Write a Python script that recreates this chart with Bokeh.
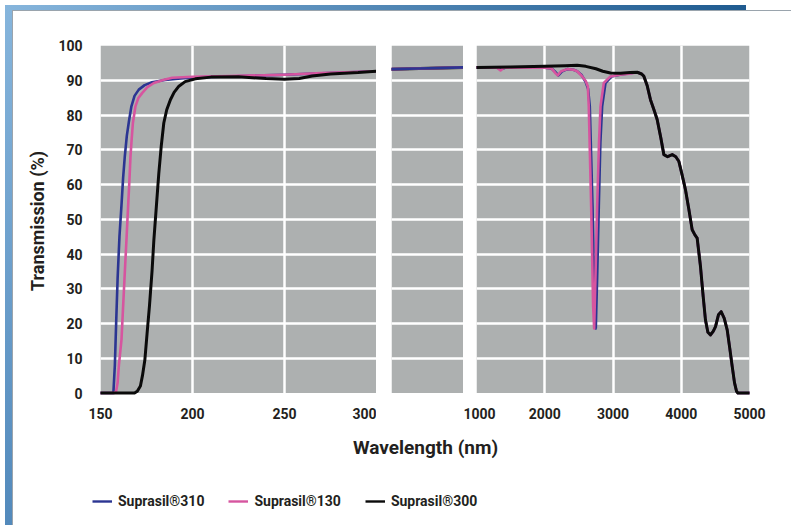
from bokeh.plotting import figure
from bokeh.layouts import column, row
from bokeh.models import Range1d, FixedTicker, BoxAnnotation, Legend, LegendItem, Label, Div
from bokeh.embed import file_html
from bokeh.resources import INLINE

# ---------------- data ----------------
series_names = ["Suprasil®310", "Suprasil®130", "Suprasil®300"]

# shared long-wavelength tail (all three grades coincide beyond ~3.4 µm)
tail_wl = [3420, 3451, 3500, 3549, 3600, 3647, 3700, 3745, 3800, 3868, 3920, 3964, 4010, 4062,
           4110, 4160, 4200, 4233, 4282, 4320, 4355, 4390, 4429, 4470, 4502, 4545, 4585, 4630,
           4673, 4710, 4747, 4780, 4810, 4830, 5000]
tail_t = [91.8, 91.2, 88.5, 84.4, 81.5, 78.7, 73.5, 68.6, 68.0, 68.6, 68.0, 66.7, 63.0, 58.5,
          53.0, 47.0, 45.5, 44.6, 36.4, 28.0, 21.0, 17.5, 16.7, 17.8, 19.1, 22.5, 23.4, 21.5,
          18.2, 13.0, 7.6, 3.0, 0.5, 0.0, 0.0]

wl_310 = [150, 157.0, 157.8, 158.5, 159.3, 160.3, 161.4, 162.3, 163.2, 164.3, 165.4, 166.8, 168.5,
          170.8, 174, 178, 185, 195, 207, 220, 250, 270, 300, 350, 600, 1000,
          1300, 1376, 1420, 2000, 2100, 2160, 2200, 2250, 2330, 2420, 2475, 2540, 2600, 2635, 2660,
          2700, 2729, 2748, 2770, 2792, 2815, 2841, 2890, 2980, 3100, 3250, 3355]
t_310 = [0, 0, 8, 20, 33, 45, 54, 62, 68, 74, 78, 82.5, 85.5,
         87.3, 88.6, 89.4, 90.1, 90.6, 90.9, 91.1, 91.6, 92.0, 92.6, 93.2, 93.4, 93.7,
         93.6, 93.3, 93.6, 93.6, 93.4, 92.3, 91.4, 92.5, 93.2, 93.0, 92.6, 91.5, 89.5, 87.5, 82.5,
         53.7, 24.9, 18.6, 35, 53.7, 72, 82.5, 89.2, 91.1, 91.6, 92.0, 92.3]

wl_130 = [150, 157.5, 158.5, 159.3, 160.0, 161.4, 162.3, 163.2, 164.1, 165.0, 165.7, 166.3, 167.0,
          167.6, 169, 170.5, 172.6, 175.5, 179, 184, 189, 200, 220, 250, 270, 300, 350, 600, 1000,
          1300, 1352, 1400, 2000, 2100, 2160, 2190, 2240, 2330, 2420, 2475, 2540, 2600, 2631, 2645,
          2660, 2680, 2709, 2724, 2745, 2768, 2795, 2817, 2865, 2963, 3100, 3208, 3300, 3355]
t_130 = [0, 0, 0.5, 3, 8, 15.3, 25, 34.6, 44, 53.7, 61, 68.1, 73.5,
         77.7, 82.5, 84.8, 86.3, 88.0, 89.2, 90.1, 90.7, 91.0, 91.2, 91.6, 92.1, 92.6, 93.2, 93.4, 93.7,
         93.6, 92.8, 93.6, 93.6, 93.4, 92.0, 91.4, 92.6, 93.2, 93.0, 92.6, 91.3, 89.8, 88.3, 82.5,
         70, 53.7, 24.9, 18.6, 35, 53.7, 72, 82.5, 89.2, 91.1, 91.6, 91.8, 92.1, 92.3]

wl_300 = [150, 168.5, 170, 171.7, 172.8, 174.1, 175.3, 176.6, 178, 179, 180.4, 181.7, 183, 184.4,
          186, 188, 190, 192.6, 196, 201.6, 210, 225, 240, 250, 258, 265, 275, 290, 300, 350, 600,
          1000, 1500, 2000, 2300, 2475, 2600, 2750, 2850, 2963, 3110, 3250, 3355]
t_300 = [0, 0, 0.5, 2, 5, 9.5, 17, 25, 35, 44, 54, 63.3, 71, 77.7,
         81.5, 84.4, 86.5, 88.3, 89.6, 90.4, 90.9, 91.0, 90.5, 90.3, 90.5, 91.2, 91.8, 92.2, 92.6, 93.2, 93.4,
         93.7, 93.8, 94.0, 94.2, 94.3, 94.0, 93.3, 92.6, 92.1, 92.0, 92.2, 92.3]

y_ticks = [0, 10, 20, 30, 40, 50, 60, 70, 80, 90, 100]
x_ticks_uv = [150, 200, 250, 300]
x_ticks_ir = [1000, 2000, 3000, 4000, 5000]

series_wl = [wl_310 + tail_wl, wl_130 + tail_wl, wl_300 + tail_wl]
series_t = [t_310 + tail_t, t_130 + tail_t, t_300 + tail_t]
colors = ["#2b3592", "#d6559f", "#0a0a0a"]
widths = [2.6, 2.6, 3.0]

# ---------------- styling ----------------
FONT = "Roboto"
TXT = "#231f20"
PANEL = "#adb0b0"
grid_y = [10, 20, 30, 40, 50, 60, 70, 80, 90]


def panel(xr, frame_w, b_left, b_right, xticks, xgrid, draw_order, with_yaxis):
    p = figure(frame_width=frame_w, frame_height=351, x_range=Range1d(*xr), y_range=Range1d(-1, 100),
               min_border_left=b_left, min_border_right=b_right, min_border_top=45, min_border_bottom=30,
               output_backend="svg", toolbar_location=None,
               x_axis_location="below" if xticks else None,
               y_axis_location="left" if with_yaxis else None)
    p.outline_line_color = None
    p.background_fill_color = "white"
    p.border_fill_color = "white"
    p.add_layout(BoxAnnotation(bottom=0, top=100, fill_color=PANEL, fill_alpha=1.0,
                               line_color=None, level="image"))
    p.ygrid.ticker = FixedTicker(ticks=grid_y)
    p.ygrid.grid_line_color = "white"
    p.ygrid.grid_line_width = 2.5
    if xgrid:
        p.xgrid.ticker = FixedTicker(ticks=xgrid)
        p.xgrid.grid_line_color = "white"
        p.xgrid.grid_line_width = 2.5
    else:
        p.xgrid.visible = False
    if xticks:
        ax = p.xaxis[0]
        ax.ticker = FixedTicker(ticks=xticks)
        ax.axis_line_color = None
        ax.major_tick_line_color = None
        ax.minor_tick_line_color = None
        ax.major_label_standoff = 5
        ax.major_label_text_font = FONT
        ax.major_label_text_font_size = "14px"
        ax.major_label_text_font_style = "bold"
        ax.major_label_text_color = TXT
    if with_yaxis:
        ay = p.yaxis[0]
        ay.ticker = FixedTicker(ticks=y_ticks)
        ay.axis_line_color = None
        ay.major_tick_line_color = None
        ay.minor_tick_line_color = None
        ay.major_label_standoff = 12
        ay.major_label_text_font = FONT
        ay.major_label_text_font_size = "14px"
        ay.major_label_text_font_style = "bold"
        ay.major_label_text_color = TXT
        ay.axis_label = "Transmission (%)"
        ay.axis_label_standoff = 7
        ay.axis_label_text_font = FONT
        ay.axis_label_text_font_size = "18px"
        ay.axis_label_text_font_style = "bold"
        ay.axis_label_text_color = TXT
    for i in draw_order:
        p.line(series_wl[i], series_t[i], line_color=colors[i], line_width=widths[i],
               line_join="round", line_cap="round")
    return p


f1 = panel((150, 300), 276, 100, 0, x_ticks_uv, [200, 250], [0, 1, 2], True)
f2 = panel((350, 1000), 72, 15, 0, None, None, [2, 1, 0], False)
f3 = panel((1000, 5000), 273, 13, 42, x_ticks_ir, [2000, 3000, 4000], [0, 1, 2], False)

# bottom strip: x-axis title and legend
fb = figure(width=791, height=99, x_range=Range1d(0, 1), y_range=Range1d(0, 1), min_border=0,
            x_axis_location=None, y_axis_location=None, output_backend="svg", toolbar_location=None)
fb.outline_line_color = None
fb.xgrid.visible = False
fb.ygrid.visible = False
items = []
for i in range(3):
    r = fb.line(series_wl[i], series_t[i], line_color=colors[i], line_width=2.4)
    items.append(LegendItem(label=series_names[i], renderers=[r]))
leg = Legend(items=items, orientation="horizontal", location=(92, 16), padding=4, margin=0,
             spacing=24, glyph_width=20, glyph_height=16, label_standoff=6,
             label_text_font=FONT, label_text_font_size="14px", label_text_font_style="bold",
             label_text_color=TXT, border_line_color=None, background_fill_alpha=0)
fb.add_layout(leg, "center")
fb.add_layout(Label(x=425, y=78, x_units="screen", y_units="screen", text="Wavelength (nm)",
                    text_align="center", text_baseline="middle", text_font=FONT,
                    text_font_size="19px", text_font_style="bold", text_color=TXT))

# decorative frame of the original graphic
deco_left = Div(text="", width=8, height=525,
                styles={"position": "fixed", "left": "0px", "top": "0px", "z-index": "5",
                        "background": "linear-gradient(180deg, #86b5dc 0%, #5289bb 100%)",
                        "border-right": "1px solid #9aa4ad"})
deco_top = Div(text="", width=741, height=5,
               styles={"position": "fixed", "left": "0px", "top": "0px", "z-index": "6",
                       "background": "linear-gradient(90deg, #86b5dc 0%, #1f5b90 100%)"})
deco_line = Div(text="", width=791, height=1,
                styles={"position": "fixed", "left": "0px", "top": "5px", "z-index": "4",
                        "background": "#9aa4ad"})

layout = column(deco_line, deco_left, deco_top, row(f1, f2, f3, spacing=0), fb, spacing=0)

open("out.html", "w").write(file_html(layout, INLINE))
